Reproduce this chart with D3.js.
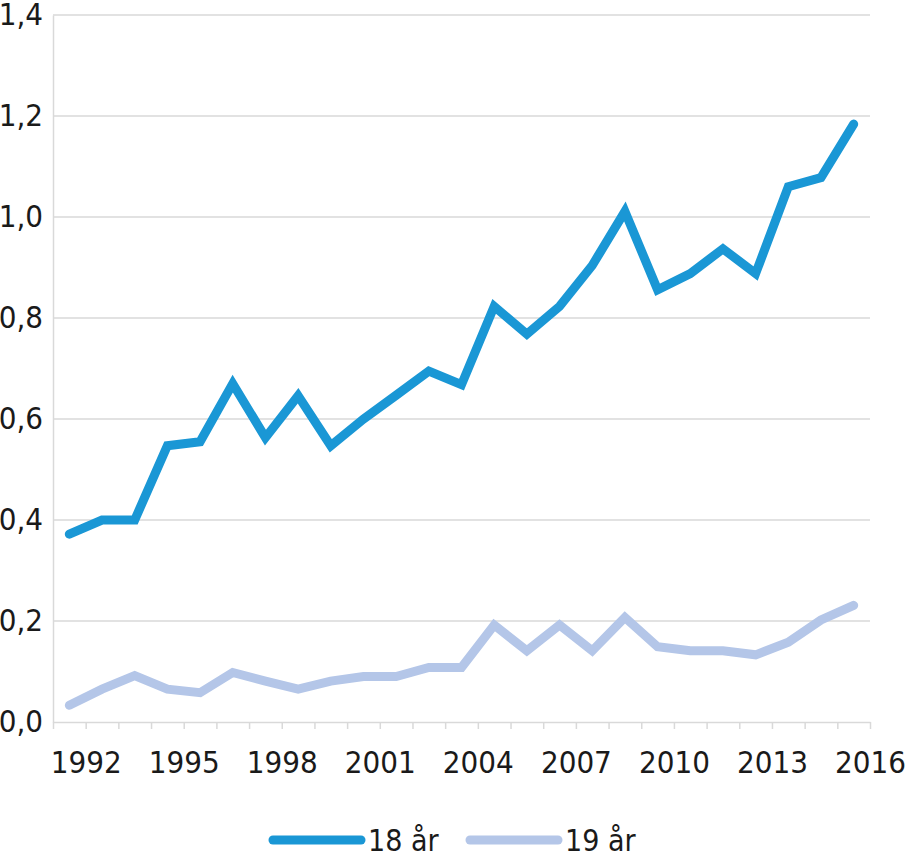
<!DOCTYPE html>
<html>
<head>
<meta charset="utf-8">
<script src="https://cdn.jsdelivr.net/npm/d3@7"></script>
<style>
  body { margin: 0; background: #fff; }
  text { font-family: "DejaVu Sans Condensed", "DejaVu Sans", sans-serif; fill: #1a1a1a; }
</style>
</head>
<body>
<svg id="chart" width="919" height="860"></svg>
<script>
// Years (one category each)
const years = d3.range(1991, 2016);
const age18 = [0.372, 0.40, 0.40, 0.547, 0.555, 0.670, 0.563, 0.646, 0.547, 0.60, 0.647, 0.695,
               0.668, 0.823, 0.768, 0.823, 0.904, 1.011, 0.856, 0.888, 0.937, 0.888, 1.060, 1.078, 1.184];
const age19 = [0.033, 0.065, 0.092, 0.065, 0.058, 0.098, 0.081, 0.065, 0.081, 0.090, 0.090, 0.108,
               0.108, 0.192, 0.141, 0.192, 0.141, 0.207, 0.149, 0.141, 0.141, 0.133, 0.158, 0.202, 0.231];
const xTickLabels = [1992, 1995, 1998, 2001, 2004, 2007, 2010, 2013, 2016];
const yTicks = [0, 0.2, 0.4, 0.6, 0.8, 1.0, 1.2, 1.4];
const seriesNames = ["18 år", "19 år"];
const colors = ["#1a97d5", "#b4c6e8"];

const svg = d3.select("#chart");
const plotLeft = 53, plotRight = 870, plotTop = 15, plotBottom = 722;

// category axis: tick k sits at the left boundary of year k
const x = d3.scaleLinear().domain([1991, 2016]).range([plotLeft, plotRight]);
const y = d3.scaleLinear().domain([0, 1.4]).range([plotBottom, plotTop]);
const fmt = d => d3.format(".1f")(d).replace(".", ",");

// gridlines
svg.append("g")
    .selectAll("line")
    .data(yTicks.slice(1))
    .enter()
    .append("line")
    .attr("x1", plotLeft).attr("x2", plotRight)
    .attr("y1", d => y(d)).attr("y2", d => y(d))
    .attr("stroke", "#d9d9d9")
    .attr("stroke-width", 1.5);

// y axis
const yAxis = svg.append("g")
    .attr("transform", `translate(${plotLeft},0)`)
    .call(d3.axisLeft(y).tickValues(yTicks).tickFormat(fmt).tickSize(0).tickPadding(10));
yAxis.select(".domain").attr("stroke", "#d9d9d9").attr("stroke-width", 1.5);
yAxis.selectAll("text").style("font-size", "31px").attr("fill", "#1a1a1a");

// x axis: tick marks at each category boundary, labels every third
const xAxis = svg.append("g")
    .attr("transform", `translate(0,${plotBottom})`)
    .call(d3.axisBottom(x).tickValues(d3.range(1991, 2017)).tickSize(7).tickSizeOuter(0)
        .tickFormat(d => xTickLabels.includes(d) ? d : "").tickPadding(22));
xAxis.select(".domain").attr("stroke", "#d9d9d9").attr("stroke-width", 1.5);
xAxis.selectAll(".tick line").attr("stroke", "#d9d9d9").attr("stroke-width", 1.5);
xAxis.selectAll("text").style("font-size", "31px").attr("fill", "#1a1a1a");

// lines, points in the middle of each year's category
const line = d3.line()
    .x((d, i) => x(years[i] + 0.5))
    .y(d => y(d));

[age19, age18].forEach((vals, k) => {
    svg.append("path")
        .datum(vals)
        .attr("d", line)
        .attr("fill", "none")
        .attr("stroke", colors[1 - k])
        .attr("stroke-width", 9)
        .attr("stroke-linejoin", "miter")
        .attr("stroke-linecap", "round");
});

// legend
const legend = svg.append("g").attr("transform", "translate(0,840)");
const legendX = [273, 470];
seriesNames.forEach((name, i) => {
    legend.append("line")
        .attr("x1", legendX[i]).attr("x2", legendX[i] + 88)
        .attr("y1", 0).attr("y2", 0)
        .attr("stroke", colors[i])
        .attr("stroke-width", 9)
        .attr("stroke-linecap", "round");
    legend.append("text")
        .attr("x", legendX[i] + 95)
        .attr("y", 11)
        .style("font-size", "30px")
        .text(name);
});
</script>
</body>
</html>
